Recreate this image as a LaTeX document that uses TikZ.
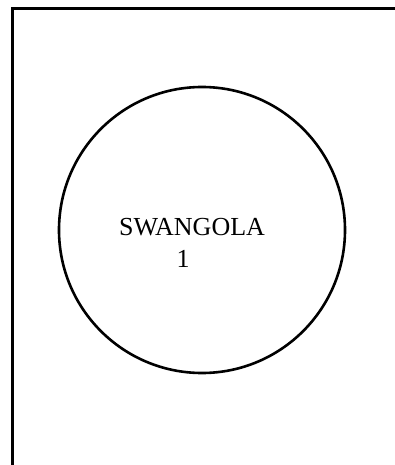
\documentclass[tikz,border=0pt]{standalone}
\usepackage{fontspec}
\setmainfont{Liberation Serif}
\usetikzlibrary{positioning}

\begin{document}
\begin{tikzpicture}[
  x=1pt, y=-1pt,
  frame/.style={line width=3pt, line cap=rect},
  ring/.style={circle, draw, line width=2.6pt, minimum size=286pt, inner sep=0pt},
  label/.style={font=\fontsize{26}{28}\selectfont, inner sep=0pt}
]
\useasboundingbox (0,0) rectangle (394,465);
\draw[frame] (12,470) -- (12,9) -- (400,9);
\node[ring] (area) at (202,230) {};
\node[label, anchor=base] (name) at (192,235) {SWANGOLA};
\node[label, anchor=base] (num) at (183,267) {1};
\end{tikzpicture}
\end{document}
